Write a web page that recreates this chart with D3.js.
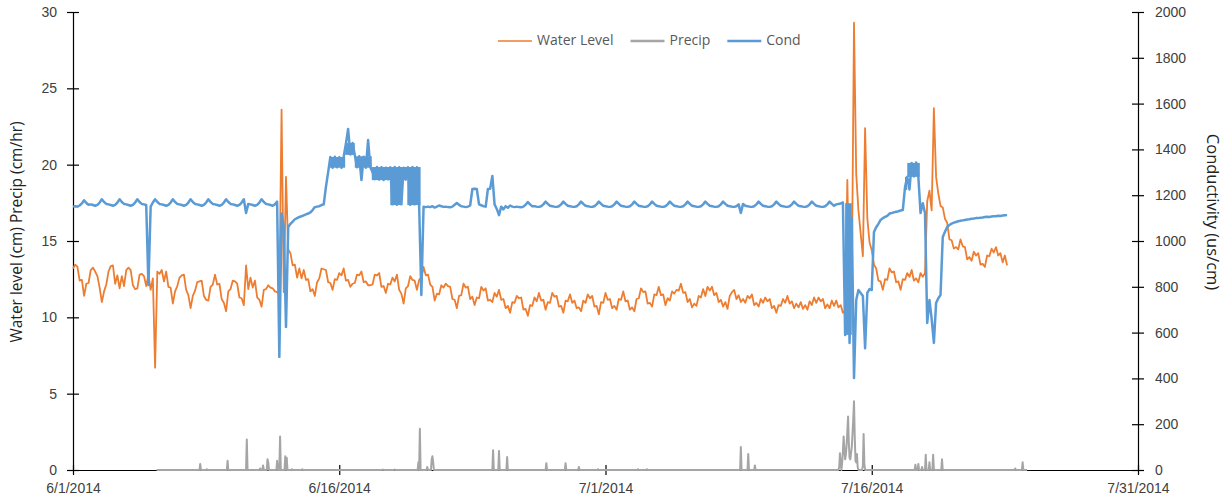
<!DOCTYPE html>
<html>
<head>
<meta charset="utf-8">
<script src="https://cdn.jsdelivr.net/npm/d3@7"></script>
<style>
  body { margin: 0; background: #fff; }
  svg { font-family: "Open Sans", "DejaVu Sans", sans-serif; display: block; }
</style>
</head>
<body>
<div id="chart"></div>
<script>
// water level (cm) and conductivity (us/cm), one reading every 3 hours from 6/1 00:00
const seriesStart = "2014-06-01 00";
const stepHours = 3;

const levelValues = [
  13.2, 13.45, 13.3, 12.4, 12.45, 11.4, 12.2, 12.25,   // 6/1
  13.1, 13.25, 13.0, 12.7, 11.95, 11.0, 11.7, 12.15,
  13.0, 13.35, 13.4, 12.2, 12.75, 11.9, 12.7, 12.05,
  13.1, 13.25, 13.1, 12.1, 11.85, 11.9, 12.8, 12.85,
  12.7, 12.05, 12.8, 11.8, 12.55, 6.7, 13.0, 12.85,    // 6/5
  13.1, 12.35, 13.0, 12.0, 11.95, 10.9, 11.7, 12.05,
  12.6, 12.75, 12.8, 11.8, 11.45, 10.6, 11.4, 11.75,
  12.3, 12.35, 12.4, 11.4, 11.15, 11.1, 12.0, 12.15,
  12.8, 12.15, 12.2, 11.2, 10.95, 10.4, 11.7, 11.85,
  12.4, 12.35, 12.2, 11.3, 11.25, 10.8, 13.4, 11.85,   // 6/10
  12.6, 11.95, 12.4, 11.3, 11.15, 10.7, 11.8, 11.85,
  12.1, 11.95, 11.9, 11.7, 11.65, 11.6, 23.6, 11.65,
  19.2, 14.45, 14.2, 13.4, 13.45, 12.6, 13.2, 12.55,
  13.1, 12.45, 12.5, 11.7, 11.85, 11.4, 12.3, 12.55,
  13.2, 13.15, 13.1, 12.3, 12.25, 11.8, 12.5, 12.45,   // 6/15
  12.9, 12.75, 13.2, 12.4, 12.45, 12.0, 12.2, 12.25,
  12.8, 12.75, 13.0, 12.3, 12.35, 12.1, 12.1, 12.15,
  12.8, 12.75, 12.9, 12.0, 12.05, 11.6, 12.2, 12.15,
  12.6, 12.35, 12.8, 11.8, 11.55, 10.9, 11.9, 12.05,
  12.7, 12.45, 12.4, 11.8, 12.45, 12.6, 13.3, 12.75,   // 6/20
  12.8, 12.15, 12.0, 11.1, 11.55, 11.5, 12.1, 11.95,
  12.2, 12.05, 12.0, 11.2, 11.15, 10.6, 11.4, 11.45,
  12.2, 11.95, 12.0, 11.2, 11.35, 10.8, 11.3, 11.25,
  12.0, 11.75, 11.9, 11.1, 11.15, 11.0, 11.6, 11.35,
  11.8, 11.15, 11.2, 10.6, 10.75, 10.3, 11.0, 10.95,   // 6/25
  11.4, 11.25, 11.3, 10.5, 10.55, 10.1, 10.8, 10.75,
  11.3, 11.05, 11.6, 11.1, 11.15, 10.5, 11.0, 10.95,
  11.6, 11.35, 11.4, 10.7, 10.75, 10.3, 11.1, 11.05,
  11.5, 10.95, 11.1, 10.6, 10.65, 10.4, 11.1, 10.95,
  11.5, 11.25, 11.4, 10.7, 10.75, 10.2, 11.0, 10.95,   // 6/30
  11.6, 11.15, 11.2, 10.6, 10.75, 10.5, 11.2, 11.15,
  11.7, 11.05, 11.1, 10.5, 10.65, 10.4, 11.2, 11.25,
  11.9, 11.65, 11.7, 10.9, 10.95, 10.7, 11.5, 11.45,
  12.0, 11.45, 11.5, 10.8, 11.25, 11.1, 11.7, 11.55,
  11.8, 11.75, 12.2, 11.6, 11.65, 11.0, 11.2, 10.65,   // 7/5
  10.9, 10.75, 11.4, 11.3, 11.85, 11.4, 12.0, 11.75,
  12.0, 11.45, 11.6, 11.0, 11.15, 10.7, 11.0, 10.55,
  11.4, 11.65, 11.8, 11.2, 11.45, 11.0, 11.2, 10.95,
  11.4, 11.25, 11.5, 10.8, 10.95, 10.7, 11.2, 10.95,
  11.3, 11.05, 11.2, 10.6, 10.75, 10.3, 10.8, 10.75,   // 7/10
  11.2, 10.95, 11.4, 10.9, 11.05, 10.6, 10.9, 10.65,
  11.0, 10.55, 10.8, 10.5, 11.05, 10.8, 11.3, 10.95,
  11.3, 11.05, 11.2, 10.6, 10.85, 10.6, 11.1, 10.75,
  11.1, 10.65, 10.8, 10.3, 10.45, 19.0, 11.0, 12.0,
  29.3, 19.4, 17.0, 15.5, 14.0, 22.4, 16.5, 14.9,      // 7/15
  14.4, 13.45, 13.2, 12.4, 12.35, 11.8, 12.5, 12.45,
  13.2, 12.95, 13.0, 12.3, 12.35, 11.8, 12.5, 12.45,
  12.9, 12.65, 13.1, 12.4, 12.55, 12.3, 12.9, 12.65,
  12.9, 17.6, 18.3, 17.0, 23.7, 19.2, 18.1, 17.3,
  17.2, 16.45, 16.2, 15.1, 15.05, 14.5, 14.6, 14.45,   // 7/20
  15.1, 14.65, 14.6, 13.8, 13.95, 13.7, 14.3, 14.05,
  14.2, 13.45, 13.5, 13.3, 14.05, 14.0, 14.5, 14.25,
  14.6, 14.05, 14.2, 13.6, 14.05, 13.4
];

const condValues = [
  1150, 1152, 1150, 1155, 1164, 1178, 1166, 1158,   // 6/1
  1160, 1157, 1154, 1158, 1168, 1182, 1170, 1162,
  1160, 1157, 1154, 1158, 1168, 1182, 1170, 1162,
  1160, 1157, 1154, 1158, 1168, 1182, 1170, 1162,
  1160, 1157, 808, 1150, 1168, 1182, 1170, 1162,    // 6/5
  1160, 1157, 1154, 1158, 1168, 1182, 1170, 1162,
  1160, 1157, 1154, 1158, 1168, 1182, 1170, 1162,
  1160, 1157, 1154, 1158, 1168, 1182, 1170, 1162,
  1160, 1157, 1154, 1158, 1168, 1182, 1170, 1162,
  1160, 1157, 1154, 1158, 1168, 1182, 1122, 1162,   // 6/10
  1160, 1157, 1154, 1158, 1168, 1182, 1170, 1162,
  1160, 1157, 1154, 1160, 1172, 494, 1120, 1060,
  625, 1061, 1075, 1085, 1095, 1100, 1105, 1108,
  1112, 1116, 1120, 1125, 1135, 1148, 1150, 1152,
  1157, 1160, 1236, 1301, 1367, 1320, 1368, 1322,   // 6/15
  1366, 1320, 1369, 1425, 1489, 1378, 1428, 1376,
  1322, 1370, 1266, 1368, 1320, 1441, 1322, 1300,
  1270, 1323, 1268, 1322, 1266, 1320, 1270, 1322,
  1160, 1323, 1158, 1322, 1160, 1320, 1268, 1322,
  1158, 1323, 1160, 1322, 1158, 764, 1150, 1148,    // 6/20
  1150, 1148, 1152, 1146, 1150, 1155, 1152, 1149,
  1150, 1148, 1147, 1150, 1158, 1166, 1158, 1152,
  1150, 1148, 1150, 1155, 1227, 1228, 1227, 1160,
  1156, 1152, 1150, 1227, 1228, 1284, 1160, 1140,
  1113, 1150, 1138, 1152, 1145, 1155, 1150, 1148,   // 6/25
  1150, 1148, 1147, 1150, 1158, 1170, 1160, 1152,
  1152, 1150, 1149, 1152, 1160, 1172, 1162, 1154,
  1152, 1150, 1149, 1152, 1160, 1172, 1162, 1154,
  1152, 1150, 1149, 1152, 1160, 1172, 1162, 1154,
  1152, 1150, 1149, 1152, 1160, 1172, 1162, 1154,   // 6/30
  1152, 1150, 1149, 1152, 1160, 1172, 1162, 1154,
  1152, 1150, 1149, 1152, 1160, 1172, 1162, 1154,
  1152, 1150, 1149, 1152, 1160, 1172, 1162, 1154,
  1152, 1150, 1149, 1152, 1160, 1172, 1162, 1154,
  1152, 1150, 1149, 1152, 1160, 1172, 1162, 1154,   // 7/5
  1152, 1150, 1149, 1152, 1160, 1172, 1162, 1154,
  1152, 1150, 1149, 1152, 1160, 1172, 1162, 1154,
  1152, 1150, 1149, 1152, 1160, 1122, 1162, 1154,
  1152, 1150, 1149, 1152, 1160, 1172, 1162, 1154,
  1152, 1150, 1149, 1152, 1160, 1172, 1162, 1154,   // 7/10
  1152, 1150, 1149, 1152, 1160, 1172, 1162, 1154,
  1152, 1150, 1149, 1152, 1160, 1172, 1162, 1154,
  1152, 1150, 1149, 1152, 1160, 1172, 1162, 1154,
  1160, 1162, 1164, 1168, 590, 1150, 555, 1100,
  402, 742, 786, 773, 760, 532, 773, 790,           // 7/15
  786, 1039, 1060, 1075, 1092, 1100, 1105, 1110,
  1120, 1122, 1125, 1128, 1130, 1133, 1135, 1236,
  1280, 1225, 1341, 1282, 1343, 1280, 1122, 1165,
  1122, 642, 742, 660, 555, 729, 750, 764,
  1017, 1040, 1061, 1070, 1076, 1080, 1083, 1086,   // 7/20
  1088, 1090, 1092, 1094, 1095, 1097, 1098, 1100,
  1100, 1102, 1103, 1105, 1106, 1105, 1107, 1108,
  1108, 1110, 1109, 1111, 1112, 1113
];

// spans where the logger flips between two readings so fast the line looks solid
const condBandFrom = ["2014-06-15 11", "2014-06-16 08", "2014-06-16 21", "2014-06-17 20", "2014-06-18 21", "2014-06-19 13", "2014-06-19 20", "2014-07-14 12", "2014-07-17 21", "2014-07-18 00"];
const condBandTo   = ["2014-06-16 08", "2014-06-16 21", "2014-06-17 20", "2014-06-18 21", "2014-06-19 13", "2014-06-19 20", "2014-06-20 14", "2014-07-14 21", "2014-07-18 00", "2014-07-18 17"];
const condBandLow  = [1320, 1376, 1320, 1266, 1157, 1266, 1157, 590, 1223, 1280];
const condBandHigh = [1367, 1428, 1370, 1323, 1323, 1323, 1323, 1165, 1280, 1341];

// precip (cm/hr) is hourly; hours not listed here are 0
const precipRange = ["2014-06-05 17", "2014-07-24 18"];
const precipTimes = [
  "2014-06-08 04", "2014-06-08 13", "2014-06-09 17", "2014-06-10 19",
  "2014-06-11 13", "2014-06-11 17", "2014-06-11 23", "2014-06-12 00",
  "2014-06-12 12", "2014-06-12 16", "2014-06-12 23", "2014-06-13 01",
  "2014-06-13 08", "2014-06-13 22", "2014-06-18 11", "2014-06-19 03",
  "2014-06-20 11", "2014-06-20 13", "2014-06-20 23", "2014-06-21 05",
  "2014-06-21 06", "2014-06-21 07", "2014-06-24 16", "2014-06-25 00",
  "2014-06-25 11", "2014-06-27 16", "2014-06-28 18", "2014-06-29 12",
  "2014-06-30 14", "2014-07-02 20", "2014-07-03 08", "2014-07-08 15",
  "2014-07-09 01", "2014-07-09 10",
  "2014-07-14 04", "2014-07-14 05", "2014-07-14 06", "2014-07-14 08",
  "2014-07-14 09", "2014-07-14 10", "2014-07-14 11", "2014-07-14 12",
  "2014-07-14 13", "2014-07-14 14", "2014-07-14 15", "2014-07-14 16",
  "2014-07-14 17", "2014-07-14 18", "2014-07-14 19", "2014-07-14 20",
  "2014-07-14 21", "2014-07-14 22", "2014-07-14 23", "2014-07-15 00",
  "2014-07-15 01", "2014-07-15 02", "2014-07-15 03", "2014-07-15 04",
  "2014-07-15 05", "2014-07-15 12", "2014-07-15 13", "2014-07-15 14",
  "2014-07-18 11", "2014-07-18 15", "2014-07-18 20", "2014-07-19 01",
  "2014-07-19 06", "2014-07-19 11", "2014-07-19 23", "2014-07-24 02",
  "2014-07-24 12"
];
const precipValues = [
  0.4, 0.05, 0.6, 2.0,
  0.1, 0.3, 0.7, 0.5,
  0.6, 2.2, 0.9, 0.8,
  0.05, 0.05, 0.03, 0.03,
  0.5, 2.7, 0.2, 0.7,
  0.9, 0.5, 1.3, 1.25,
  0.85, 0.45, 0.45, 0.2,
  0.05, 0.05, 0.05, 1.5,
  1.05, 0.3,
  0.2, 1.1, 0.4, 0.5,
  1.2, 2.2, 1.4, 0.7,
  1.0, 1.6, 2.5, 3.5,
  1.8, 0.8, 0.7, 1.1,
  1.5, 2.4, 3.3, 4.5,
  2.2, 0.6, 0.5, 1.05,
  0.2, 0.3, 2.35, 0.4,
  0.35, 0.4, 0.2, 1.0,
  0.5, 1.0, 0.7, 0.1,
  0.5
];

const dateTicks = ["2014-06-01", "2014-06-16", "2014-07-01", "2014-07-16", "2014-07-31"];
const levelTicks = [0, 5, 10, 15, 20, 25, 30];
const condTicks = [0, 200, 400, 600, 800, 1000, 1200, 1400, 1600, 1800, 2000];
const seriesNames = ["Water Level", "Precip", "Cond"];

const colors = { "Water Level": "#ED7D31", "Precip": "#A5A5A5", "Cond": "#5B9BD5" };

const width = 1228,
      height = 499,
      margin = ({ top: 12, right: 90, bottom: 29, left: 73 });

const parseHour = d3.timeParse("%Y-%m-%d %H");
const parseDay = d3.timeParse("%Y-%m-%d");

// build the series tables
const t0 = parseHour(seriesStart);
const level = levelValues.map((v, i) => ({ date: d3.timeHour.offset(t0, i * stepHours), value: v }));
const cond = condValues.map((v, i) => ({ date: d3.timeHour.offset(t0, i * stepHours), value: v }));
const bands = condBandFrom.map((f, i) => ({
    from: parseHour(f), to: parseHour(condBandTo[i]), low: condBandLow[i], high: condBandHigh[i]
}));

const rain = new Map(precipTimes.map((t, i) => [+parseHour(t), precipValues[i]]));
const precip = d3.timeHour.range(parseHour(precipRange[0]), d3.timeHour.offset(parseHour(precipRange[1]), 1))
    .map(d => ({ date: d, value: rain.get(+d) || 0 }));

let svg = d3.select("#chart")
    .append("svg")
    .attr("width", width)
    .attr("height", height);

let x = d3.scaleTime()
    .domain([parseDay(dateTicks[0]), parseDay(dateTicks[dateTicks.length - 1])])
    .range([margin.left, width - margin.right]);

let yLeft = d3.scaleLinear()
    .domain([0, 30])
    .range([height - margin.bottom, margin.top]);

let yRight = d3.scaleLinear()
    .domain([0, 2000])
    .range([height - margin.bottom, margin.top]);

// axes (drawn first, the series sit on top like in Excel)
const tickColor = "#404040";

svg.append("g")
    .attr("transform", `translate(0,${height - margin.bottom})`)
    .call(d3.axisBottom(x)
        .tickValues(dateTicks.map(parseDay))
        .tickFormat(d3.timeFormat("%-m/%-d/%Y"))
        .tickSize(5).tickSizeOuter(0).tickPadding(8))
    .call(g => g.selectAll(".tick line").attr("y1", -5));

svg.append("g")
    .attr("transform", `translate(${margin.left},0)`)
    .call(d3.axisLeft(yLeft).tickValues(levelTicks).tickSize(6).tickSizeOuter(0).tickPadding(10))
    .call(g => g.selectAll(".tick line").attr("x1", 6));

svg.append("g")
    .attr("transform", `translate(${width - margin.right},0)`)
    .call(d3.axisRight(yRight).tickValues(condTicks).tickFormat(d3.format("d"))
        .tickSize(6).tickSizeOuter(0).tickPadding(11))
    .call(g => g.selectAll(".tick line").attr("x1", -6));

svg.selectAll(".tick text")
    .style("font-size", "14px")
    .style("fill", tickColor);
svg.selectAll(".domain, .tick line")
    .attr("stroke", "#000")
    .attr("stroke-width", 1.2);

// series
const lineLeft = d3.line().x(d => x(d.date)).y(d => yLeft(d.value));
const lineRight = d3.line().x(d => x(d.date)).y(d => yRight(d.value));

svg.append("path")
    .datum(level)
    .attr("fill", "none")
    .attr("stroke", colors["Water Level"])
    .attr("stroke-width", 1.8)
    .attr("stroke-linejoin", "round")
    .attr("d", lineLeft);

svg.append("path")
    .datum(precip)
    .attr("fill", "none")
    .attr("stroke", colors["Precip"])
    .attr("stroke-width", 2)
    .attr("stroke-linejoin", "round")
    .attr("d", lineLeft);

svg.selectAll(".cond-band")
    .data(bands)
    .join("rect")
    .attr("class", "cond-band")
    .attr("fill", colors["Cond"])
    .attr("x", d => x(d.from))
    .attr("width", d => x(d.to) - x(d.from))
    .attr("y", d => yRight(d.high))
    .attr("height", d => yRight(d.low) - yRight(d.high));

svg.append("path")
    .datum(cond)
    .attr("fill", "none")
    .attr("stroke", colors["Cond"])
    .attr("stroke-width", 2.5)
    .attr("stroke-linejoin", "round")
    .attr("d", lineRight);

// axis titles
svg.append("text")
    .attr("transform", `translate(18,232) rotate(-90)`)
    .attr("text-anchor", "middle")
    .attr("dominant-baseline", "middle")
    .style("font-size", "15.5px")
    .style("fill", "#222")
    .text("Water level (cm) Precip (cm/hr)");

svg.append("text")
    .attr("transform", `translate(1211,212) rotate(90)`)
    .attr("text-anchor", "middle")
    .attr("dominant-baseline", "middle")
    .style("font-size", "16.5px")
    .style("fill", "#222")
    .text("Conductivity (us/cm)");

// legend
let lx = 498;
const ly = 41;
for (let name of seriesNames) {
    svg.append("line")
        .attr("x1", lx).attr("x2", lx + 34)
        .attr("y1", ly).attr("y2", ly)
        .attr("stroke", colors[name])
        .attr("stroke-width", name === "Water Level" ? 1.5 : 2.5);
    let t = svg.append("text")
        .attr("x", lx + 39)
        .attr("y", ly)
        .attr("dominant-baseline", "middle")
        .style("font-size", "14px")
        .style("fill", "#595959")
        .text(name);
    lx += 39 + t.node().getComputedTextLength() + 17;
}
</script>
</body>
</html>
